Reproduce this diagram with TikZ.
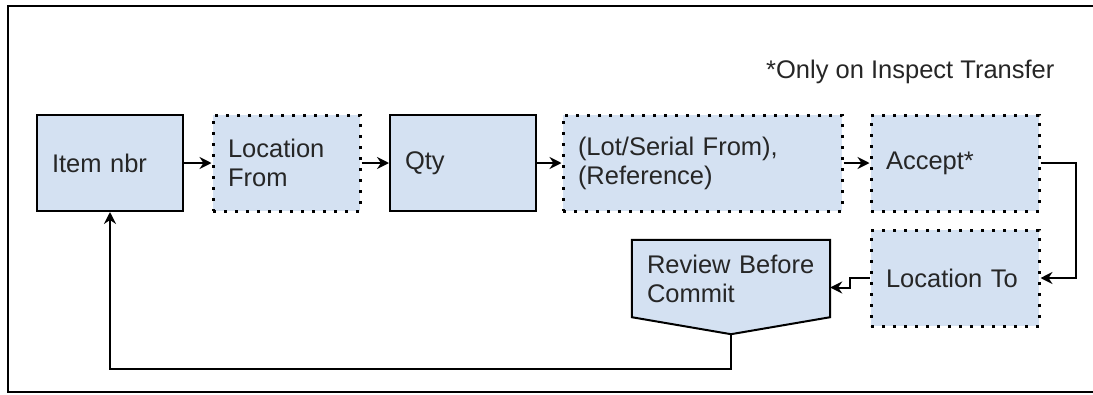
\documentclass[tikz,border=0pt]{standalone}
\usepackage{fontspec}
\setmainfont{Liberation Sans}
\usepackage{tikz}
\usetikzlibrary{positioning,arrows.meta,calc,backgrounds}
\definecolor{boxblue}{RGB}{212,225,242}

\begin{document}
\begin{tikzpicture}[
    x=1pt, y=-1pt,
    every node/.style={font=\fontsize{25.5}{29}\selectfont, text=black!85},
    stepbox/.style={draw, fill=boxblue, line width=2pt, minimum height=96pt,
        inner xsep=15pt, align=left, text width=#1, minimum width=#1+30pt},
    dotbox/.style={stepbox=#1, line width=3pt, dash pattern=on 3pt off 8pt},
    arrow/.style={-{Stealth[length=12pt,width=12pt,inset=4pt]}, line width=2pt}
]
\useasboundingbox (0,0) rectangle (1093,394);

% frame (cut off on the right)
\draw[line width=2.5pt] (1100,6) -- (8,6) -- (8,392) -- (1100,392);

% note
\node[anchor=west, inner sep=0pt] (note) at (766,72) {*Only on Inspect Transfer};

% first row
\node[stepbox=116pt] (item) at (110,163) {Item nbr};
\node[dotbox=117pt] (locfrom) at (286.5,163) {Location\\From};
\node[stepbox=116pt] (qty) at (463,163) {Qty};
\node[dotbox=249pt] (lot) at (702.5,163) {(Lot/Serial From),\\(Reference)};
\node[dotbox=138pt] (accept) at (955,163) {Accept*};

% second row
\node[dotbox=138pt] (locto) at (955,278) {Location To};
\node[align=left, text width=168pt, inner xsep=15pt, minimum width=198pt,
    minimum height=77pt] (review) at (731,278.5) {Review Before\\Commit};
\coordinate (reviewtip) at ($(review.south)+(0,17)$);
\begin{scope}[on background layer]
\draw[fill=boxblue, line width=2pt] (review.north west) -- (review.north east)
    -- (review.south east) -- (reviewtip) -- (review.south west) -- cycle;
\end{scope}

% connectors
\draw[arrow] (item) -- (locfrom);
\draw[arrow] (locfrom) -- (qty);
\draw[arrow] (qty) -- (lot);
\draw[arrow] (lot) -- (accept);
\draw[arrow] (accept.east) -- ++(35,0) |- (locto.east);
\draw[arrow] (locto.west) -- ++(-20,0) |- ([yshift=-9pt]review.east);
\draw[arrow] (reviewtip) -- ++(0,35) -| (item.south);

\end{tikzpicture}
\end{document}
